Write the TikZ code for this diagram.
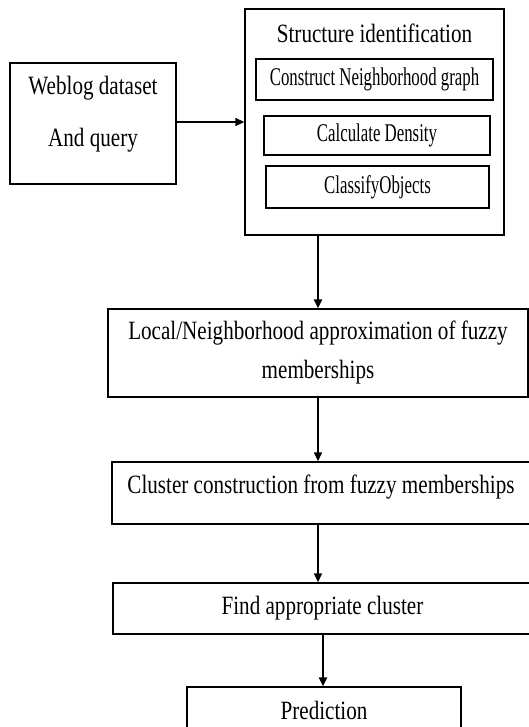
\documentclass[tikz,border=0pt]{standalone}
\usepackage{fontspec}
\setmainfont{Liberation Serif}[FakeStretch=0.8]
\newfontfamily\innerfont{Liberation Serif}[FakeStretch=0.66]
\usepackage{tikz}
\usetikzlibrary{arrows.meta, positioning, calc}

\begin{document}
\begin{tikzpicture}[x=1pt, y=-1pt,
    box/.style={draw, line width=1.3pt, inner sep=0pt},
    txt/.style={font=\fontsize{26.4}{30}\selectfont, inner sep=0pt},
    small/.style={font=\innerfont\fontsize{25.5}{29}\selectfont, inner sep=0pt},
    flow/.style={-{Triangle[length=9pt, width=8pt]}, line width=1.3pt},
    bold flow/.style={-{Triangle[length=9pt, width=8pt]}, line width=2.4pt}]
    \useasboundingbox (0,0) rectangle (529,727);

    % Input data
    \node[box, minimum width=166pt, minimum height=121pt] (data) at (93,123.5) {};
    \node[txt] (data1) at (93,88) {Weblog dataset};
    \node[txt] (data2) at (93,140) {And query};

    % Structure identification with its steps
    \node[box, minimum width=259pt, minimum height=226pt] (struct) at (374.5,122) {};
    \node[txt] (title) at (374.5,33) {Structure identification};
    \node[box, small, minimum width=237pt, minimum height=41pt] (neigh) at (374.5,79.5) {Construct Neighborhood graph};
    \node[box, small, minimum width=226pt, minimum height=39pt] (density) at (377,135.5) {Calculate Density};
    \node[box, small, minimum width=223pt, minimum height=42pt] (classify) at (377.5,187) {ClassifyObjects};

    % Fuzzy memberships
    \node[box, minimum width=420pt, minimum height=88pt] (local) at (318,353) {};
    \node[txt] (local1) at (318,333) {Local/Neighborhood approximation of fuzzy};
    \node[txt] (local2) at (318,372) {memberships};

    % Clusters
    \node[box, minimum width=420pt, minimum height=62pt] (cluster) at (322,493) {};
    \node[txt] (cluster1) at (321,487) {Cluster construction from fuzzy memberships};
    \node[box, txt, minimum width=419pt, minimum height=51pt] (find) at (322.5,608.5) {Find appropriate cluster};

    % Output
    \node[box, minimum width=274pt, minimum height=60pt] (pred) at (324,717) {};
    \node[txt] (pred1) at (324,710) {Prediction};

    % Arrows
    \coordinate (fs) at ($(find.south)+(0.5,0)$);
    \draw[flow] (data.east |- struct.west) -- (struct.west);
    \draw[bold flow] (struct.south -| local.north) -- (local.north);
    \draw[flow] (local.south) -- (local.south |- cluster.north);
    \draw[flow] (local.south |- cluster.south) -- (local.south |- find.north);
    \draw[bold flow] (fs) -- (fs |- pred.north);
\end{tikzpicture}
\end{document}
